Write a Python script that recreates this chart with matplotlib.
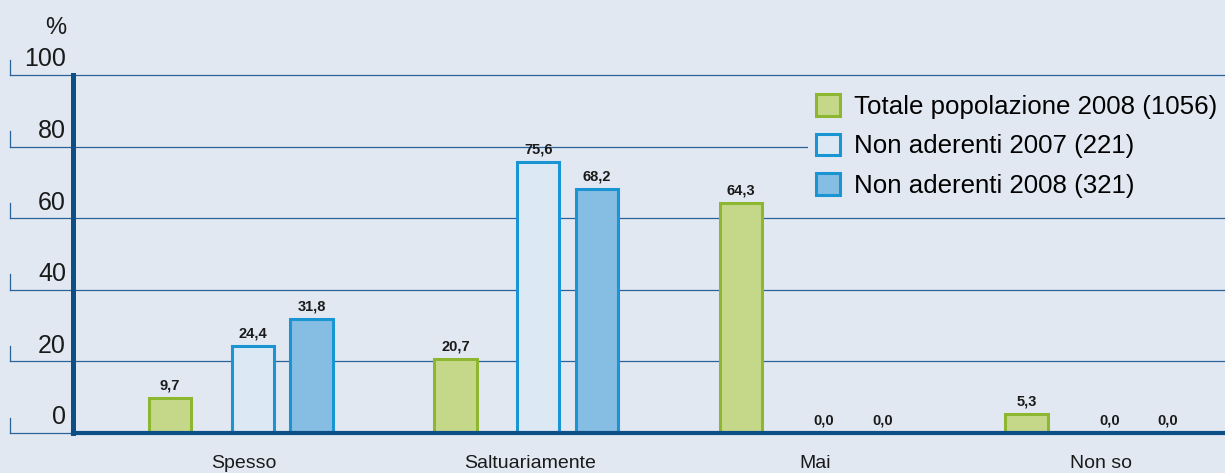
import matplotlib
matplotlib.use("Agg")
import matplotlib.pyplot as plt
from matplotlib.patches import Patch

plt.rcParams['font.family'] = ['Liberation Sans', 'DejaVu Sans']

# data
categories = ["Spesso", "Saltuariamente", "Mai", "Non so"]
series_names = ["Totale popolazione 2008 (1056)", "Non aderenti 2007 (221)", "Non aderenti 2008 (321)"]
totale_2008 = [9.7, 20.7, 64.3, 5.3]
non_aderenti_2007 = [24.4, 75.6, 0.0, 0.0]
non_aderenti_2008 = [31.8, 68.2, 0.0, 0.0]
y_ticks = [0, 20, 40, 60, 80, 100]

bg = "#e2e8f2"
dark = "#0b4f86"
grid_c = "#2a6299"
fills = ["#c5d88a", "#dce9f5", "#86bde3"]
edges = ["#8db731", "#1a95d3", "#1a95d3"]
offsets = [0.0, 0.29, 0.495]
width = 0.148

fig = plt.figure(figsize=(12.25, 4.73), dpi=100, facecolor=bg)
ax = fig.add_axes([73 / 1225, 1 - 433 / 473, 1 - 73 / 1225, 358 / 473])
ax.set_facecolor(bg)
ax.set_xlim(-0.34, 3.695)
ax.set_ylim(0, 100)

# gridlines reaching out to the left tick marks
ext = -63 / 1152
for t in y_ticks:
    ax.plot([ext, 1], [t, t], transform=ax.get_yaxis_transform(), color=grid_c,
            lw=0.9, clip_on=False, zorder=0)
    ax.plot([ext, ext], [t, t + 4.3], transform=ax.get_yaxis_transform(), color=grid_c,
            lw=0.9, clip_on=False, zorder=0)
    ax.text(-7 / 1152, t + 1.0, str(t), transform=ax.get_yaxis_transform(),
            ha='right', va='bottom', fontsize=18, color="#1a1a1a")
ax.text(-7 / 1152, 1.10, "%", transform=ax.transAxes, ha='right', va='bottom',
        fontsize=17, color="#1a1a1a")

all_series = [totale_2008, non_aderenti_2007, non_aderenti_2008]
for s, vals in enumerate(all_series):
    xs = [i + offsets[s] for i in range(len(categories))]
    for x, v in zip(xs, vals):
        if v > 0:
            ax.bar(x, v, width=width, color=fills[s], edgecolor=edges[s], linewidth=2.2, zorder=2)
        ax.annotate(f"{v:.1f}".replace(".", ","), (x, v), xytext=(0, 4),
                    textcoords='offset points', ha='center', va='bottom',
                    fontsize=10.5, fontweight='bold', color="#1a1a1a", zorder=3,
                    family=['Liberation Sans Narrow', 'Liberation Sans'])

for side in ['top', 'right']:
    ax.spines[side].set_visible(False)
ax.spines['left'].set_color(dark)
ax.spines['left'].set_linewidth(3.6)
ax.spines['bottom'].set_color(dark)
ax.spines['bottom'].set_linewidth(3.0)
ax.spines['left'].set_zorder(4)
ax.spines['bottom'].set_zorder(4)

ax.set_yticks([])
ax.set_xticks([i + 0.26 for i in range(len(categories))])
ax.set_xticklabels(categories, fontsize=14, color="#1a1a1a")
ax.tick_params(axis='x', length=0, pad=16)

handles = [Patch(facecolor=fills[k], edgecolor=edges[k], linewidth=2.2) for k in range(3)]
leg = fig.legend(handles, series_names, loc='upper left',
                 bbox_to_anchor=(808 / 1225, 1 - 86 / 473), fontsize=18.6,
                 frameon=True, facecolor=bg, edgecolor='none', framealpha=1,
                 handlelength=0.92, handleheight=0.92, handletextpad=0.55,
                 labelspacing=0.58, borderpad=0.3, borderaxespad=0)
leg.set_zorder(5)

fig.savefig("out.png", dpi=100, facecolor=bg)
